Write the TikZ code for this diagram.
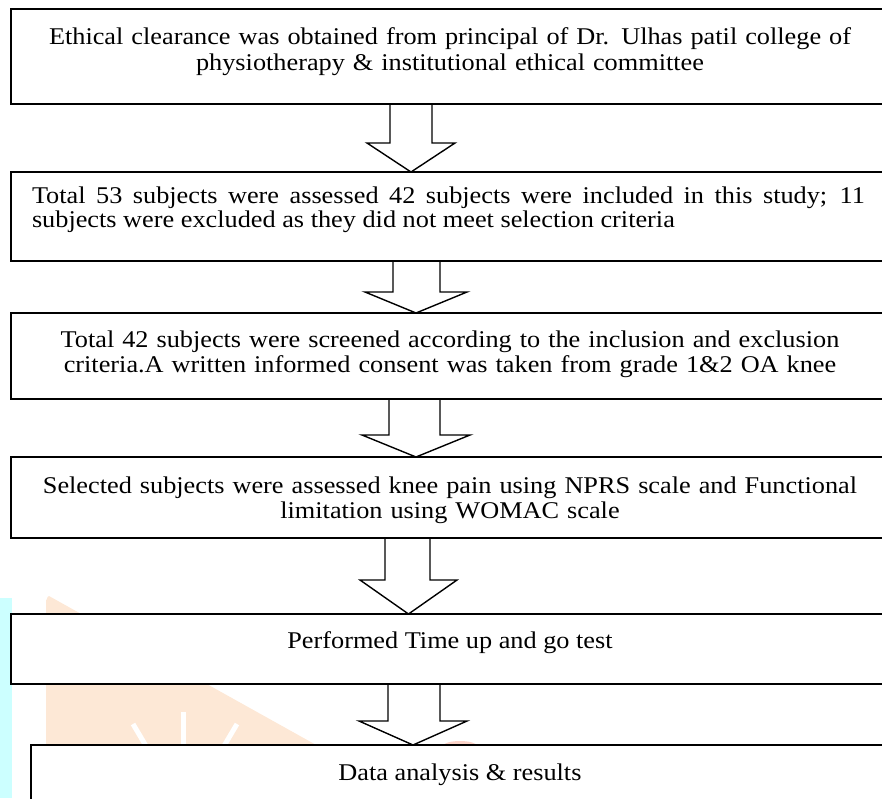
\documentclass[tikz,border=0pt]{standalone}
\usepackage{fontspec}
\setmainfont[FakeStretch=1.095]{Liberation Serif}
\usetikzlibrary{calc}
\definecolor{wmcyan}{HTML}{CCFFFF}
\definecolor{wmpeach}{HTML}{FDE8D6}
\definecolor{wmpink}{HTML}{FBD3C8}
\tikzset{
  box/.style={draw=black, line width=1.5pt, fill=white, rectangle, inner sep=0pt, outer sep=0pt},
  txt/.style={font=\fontsize{24}{25}\selectfont, inner sep=0pt, outer sep=0pt, anchor=base, align=center},
  barrow/.style={draw=black, line width=1.4pt, line join=miter},
}
\newcommand\flowarrow[7]{%
  \draw[barrow] (#3,0 |- #1.south) -- (#3,#7) -- (#5,#7) -- ({(#5+#6)/2},0 |- #2.north)
    -- (#6,#7) -- (#4,#7) -- (#4,0 |- #1.south);}
\begin{document}
\begin{tikzpicture}[x=1pt,y=-1pt]
\useasboundingbox (0,0) rectangle (882,798);
\clip (0,0) rectangle (882,798);
% watermark
\fill[wmcyan] (0,598) rectangle (12,798);
\fill[wmpeach] (46,600) to[out=-80,in=180] (49,596) -- (318,746) -- (46,746) -- cycle;
\fill[wmpink] (460,746) ellipse [x radius=17, y radius=5];
\draw[white, line width=5pt] (183.5,712) -- (183.5,746);
\draw[white, line width=5pt] (133,724) -- (146,746);
\draw[white, line width=5pt] (237,724) -- (224,746);
% boxes
\node[box, minimum width=878pt, minimum height=95pt] (b1) at (450,56.5) {};
\node[box, minimum width=878pt, minimum height=89pt] (b2) at (450,216.5) {};
\node[box, minimum width=878pt, minimum height=86pt] (b3) at (450,356) {};
\node[box, minimum width=878pt, minimum height=81pt] (b4) at (450,497.5) {};
\node[box, minimum width=878pt, minimum height=70pt] (b5) at (450,649) {};
\node[box, minimum width=858pt, minimum height=115pt] (b6) at (460,802.5) {};
% texts
\node[txt, font=\fontsize{24}{26}\selectfont, text width=860pt] (t1) at (450,44)
  {Ethical clearance was obtained from principal of Dr. Ulhas patil college of\\physiotherapy \& institutional ethical committee};
\node[txt, font=\fontsize{24}{24.5}\selectfont, text width=833pt, align=justify] (t2) at (448.5,203)
  {Total 53 subjects were assessed 42 subjects were included in this study; 11\linebreak subjects were excluded as they did not meet selection criteria};
\node[txt, text width=860pt] (t3) at (450,347)
  {Total 42 subjects were screened according to the inclusion and exclusion\\criteria.A written informed consent was taken from grade 1\&2 OA knee};
\node[txt, text width=860pt] (t4) at (450,493)
  {Selected subjects were assessed knee pain using NPRS scale and Functional\\limitation using WOMAC scale};
\node[txt] (t5) at (450,648) {Performed Time up and go test};
\node[txt] (t6) at (460,780) {Data analysis \& results};
% block arrows
\flowarrow{b1}{b2}{390}{432}{367}{455}{143}
\flowarrow{b2}{b3}{393}{440}{365}{467}{292}
\flowarrow{b3}{b4}{389}{440}{362}{470}{435}
\flowarrow{b4}{b5}{385}{430}{360}{457}{580}
\flowarrow{b5}{b6}{388}{440}{359}{467}{721}
\end{tikzpicture}
\end{document}
